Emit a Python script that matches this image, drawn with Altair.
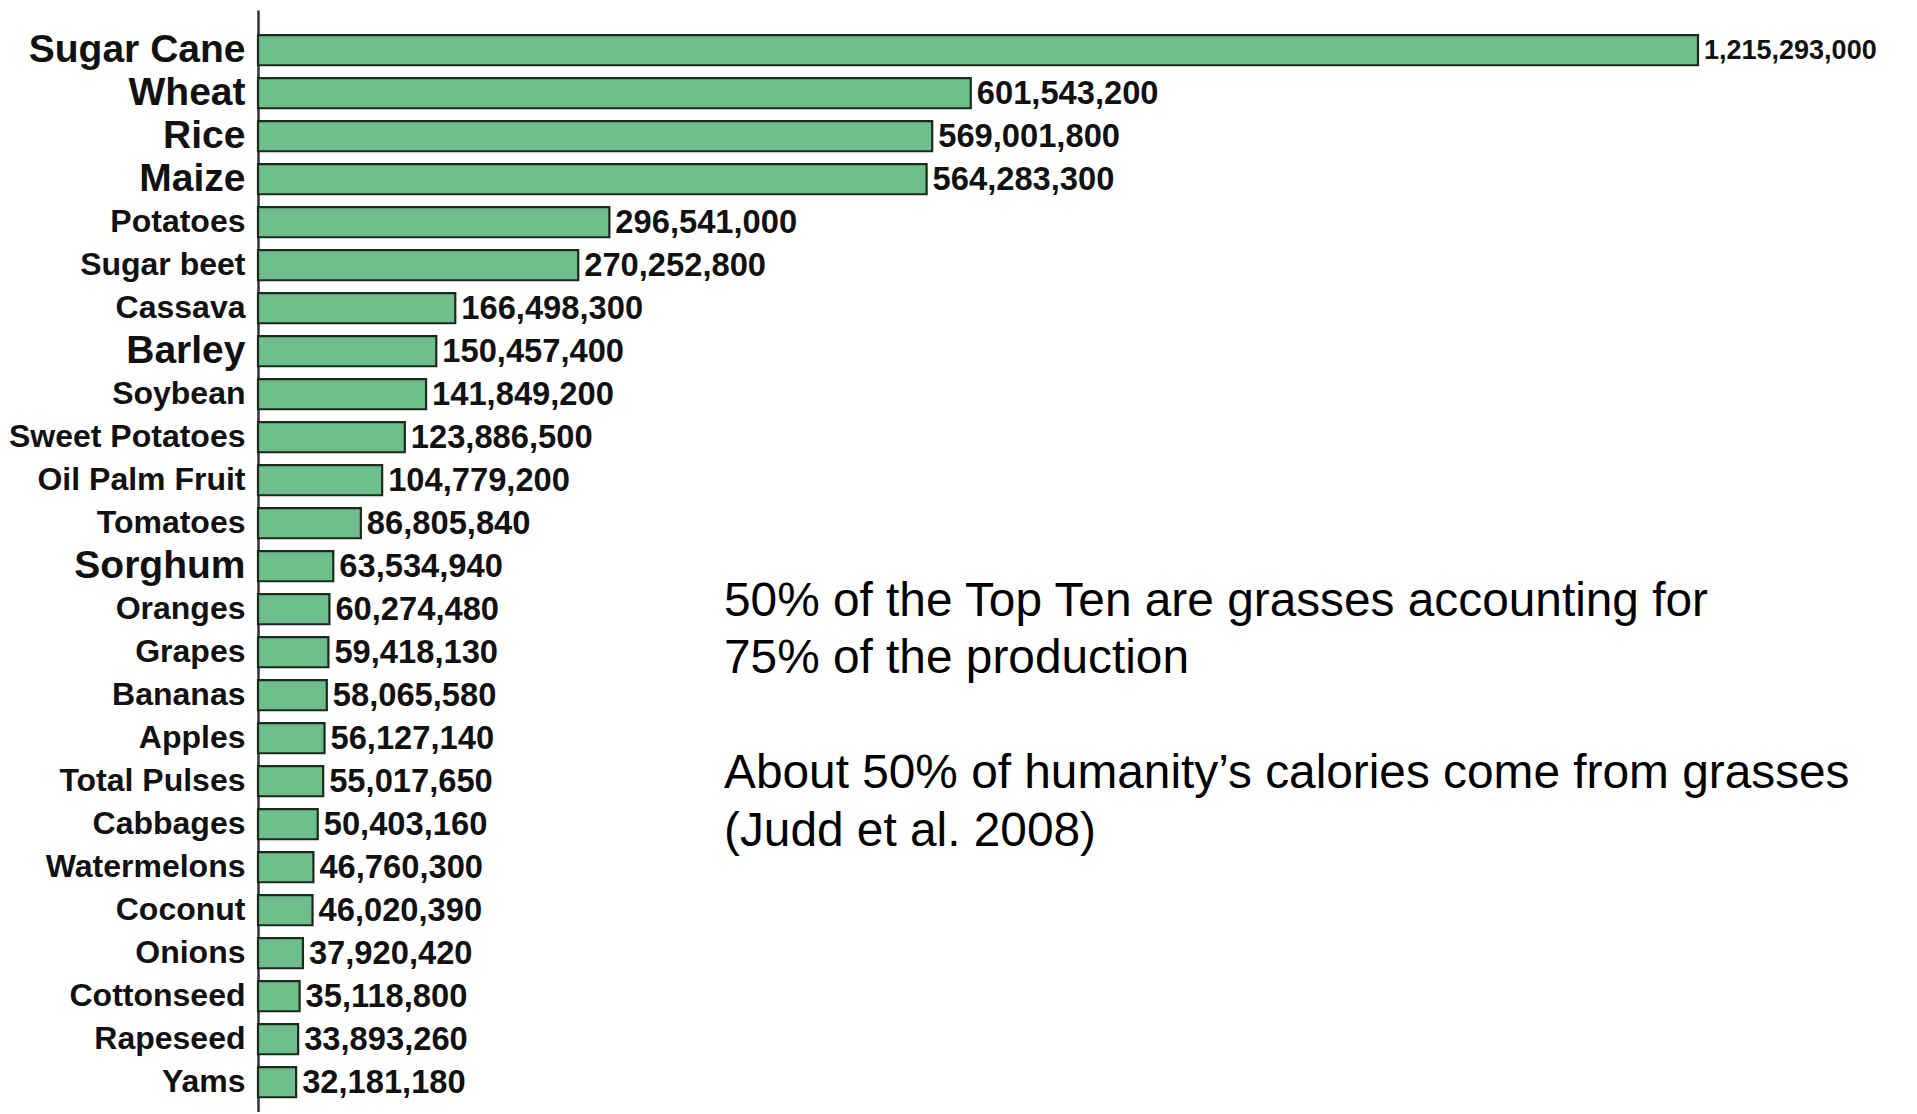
import altair as alt
import pandas as pd

crops = ["Sugar Cane", "Wheat", "Rice", "Maize", "Potatoes", "Sugar beet", "Cassava",
         "Barley", "Soybean", "Sweet Potatoes", "Oil Palm Fruit", "Tomatoes", "Sorghum",
         "Oranges", "Grapes", "Bananas", "Apples", "Total Pulses", "Cabbages",
         "Watermelons", "Coconut", "Onions", "Cottonseed", "Rapeseed", "Yams"]
production = [1215293000, 601543200, 569001800, 564283300, 296541000, 270252800, 166498300,
              150457400, 141849200, 123886500, 104779200, 86805840, 63534940,
              60274480, 59418130, 58065580, 56127140, 55017650, 50403160,
              46760300, 46020390, 37920420, 35118800, 33893260, 32181180]
grasses = ["Sugar Cane", "Wheat", "Rice", "Maize", "Barley", "Sorghum"]
note_1 = ["50% of the Top Ten are grasses accounting for",
          "75% of the production"]
note_2 = ["About 50% of humanity\u2019s calories come from grasses",
          "(Judd et al. 2008)"]

df = pd.DataFrame({"crop": crops, "production": production})
df["label"] = df["production"].map(lambda v: f"{v:,}")

grass_test = "indexof(" + str(grasses).replace('"', "'") + ", datum.value) >= 0"

W = 1440
H = 1102

yscale = alt.Scale(domain=crops, paddingInner=0.3, paddingOuter=0.464, align=0.63)
xscale = alt.Scale(domain=[0, 1215293000], nice=False, zero=True)

base = alt.Chart(df)

bars = base.mark_bar(fill="#6dbe8a", stroke="#1b2a1d", strokeWidth=2.2).encode(
    y=alt.Y("crop:N", scale=yscale, sort=crops,
            axis=alt.Axis(title=None, ticks=False, domain=True, domainColor="#333333",
                          domainWidth=2.5, labelPadding=13, grid=False,
                          labelFont="Liberation Sans", labelColor="#111111",
                          labelFontWeight="bold",
                          labelFontSize=alt.condition(grass_test, alt.value(39), alt.value(32)),
                          labelLimit=400)),
    x=alt.X("production:Q", scale=xscale, axis=None),
)

values = base.mark_text(align="left", baseline="middle", dx=6, dy=1,
                        font="Liberation Sans", fontWeight="bold",
                        color="#111111").encode(
    y=alt.Y("crop:N", scale=yscale, sort=crops),
    x=alt.X("production:Q", scale=xscale),
    text="label:N",
    size=alt.condition("datum.production > 1000000000", alt.value(27), alt.value(32.7)),
)


def note_mark(lines, ypix):
    return alt.Chart(pd.DataFrame({"t": ["\n".join(lines)]})).mark_text(
        align="left", baseline="middle", font="Liberation Sans", fontSize=47.8,
        lineBreak="\n", lineHeight=57.5, color="#000000"
    ).encode(x=alt.value(466), y=alt.value(ypix), text="t:N")


note_a = note_mark(note_1, 591.5)
note_b = note_mark(note_2, 764)

chart = alt.layer(bars, values, note_a, note_b).properties(
    width=W, height=H,
    autosize=alt.AutoSizeParams(type="none"),
    padding={"left": 250, "top": 2, "right": 210, "bottom": 0},
).configure(background="white").configure_view(stroke=None)

chart.save("out.html", embed_options={"renderer": "svg", "actions": False})
